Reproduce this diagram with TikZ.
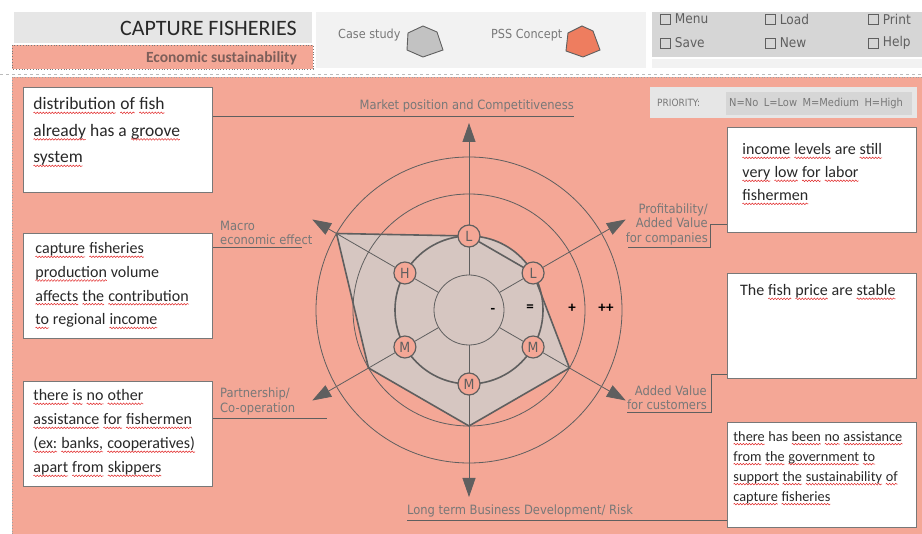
\documentclass[tikz,border=0pt]{standalone}
\usepackage{fontspec}
\setmainfont{Carlito}
\newfontfamily\labelfont{DejaVu Sans Condensed}
\usepackage{xcolor}
\definecolor{Salmon}{RGB}{244,167,150}
\definecolor{Coral}{RGB}{238,125,95}
\definecolor{Slate}{RGB}{95,95,95}
\definecolor{Ash}{RGB}{120,120,120}
\definecolor{Shell}{RGB}{214,198,193}
\definecolor{PanelGray}{RGB}{230,230,230}
\definecolor{LightGray}{RGB}{242,242,242}
\definecolor{MidGray}{RGB}{214,214,214}
\definecolor{Ink}{RGB}{40,40,40}
\definecolor{Squiggle}{RGB}{225,40,40}
\definecolor{Cocoa}{RGB}{125,95,90}
\usetikzlibrary{arrows.meta, decorations.pathmorphing}
\newcommand{\spell}[1]{\tikz[baseline=(sw.base)]{%
  \node[inner sep=0pt, outer sep=0pt, anchor=base west, text=Ink] (sw) at (0,0) {#1};%
  \draw[Squiggle, line width=0.5pt, decorate, decoration={snake, amplitude=0.8pt, segment length=3pt}]
    ([yshift=-3pt]sw.base west) -- ([yshift=-3pt]sw.base east);}}

\begin{document}
\begin{tikzpicture}[x=1pt, y=1pt,
    notebox/.style={draw=Ash, fill=white, line width=0.9pt, minimum width=189pt, minimum height=105pt, anchor=north west, inner sep=0pt},
    notetext/.style={anchor=north west, align=left, text=Ink, inner sep=0pt},
    axislabel/.style={font=\labelfont\fontsize{12.8}{14.5}\selectfont, text=Ash, inner sep=0pt},
    headlabel/.style={font=\labelfont\fontsize{12.5}{13}\selectfont, text=Ash, inner sep=0pt},
    leader/.style={draw=Slate, line width=1pt},
    spoke/.style={draw=Slate, line width=0.8pt, -{Triangle[length=19pt,width=13pt]}},
    ring/.style={draw=Slate, line width=0.8pt},
    prio/.style={circle, draw=Slate, fill=Salmon, line width=1.2pt, minimum size=22pt, inner sep=0pt, font=\labelfont\fontsize{14}{14}\selectfont, text=Slate},
    scorelabel/.style={font=\bfseries\fontsize{15}{15}\selectfont, text=black, inner sep=0pt},
    checkbox/.style={draw=Slate, line width=0.7pt, minimum size=10pt, inner sep=0pt, anchor=west},
    menulabel/.style={font=\labelfont\fontsize{13.5}{14}\selectfont, text=Slate, inner sep=0pt, anchor=west}
  ]
  \useasboundingbox (0,0) rectangle (922,-534);
  \fill[white] (0,0) rectangle (922,-534);

  % Header
  \fill[PanelGray] (14,-12) rectangle (312,-43);
  \node[anchor=east, text=Ink, font=\fontsize{22}{24}\selectfont, inner sep=0pt] (title) at (297,-28) {CAPTURE FISHERIES};
  \filldraw[fill=Salmon, draw=Ash, dotted, line width=0.8pt] (12,-45) rectangle (313,-69);
  \node[anchor=east, text=Cocoa, font=\bfseries\fontsize{15.5}{16}\selectfont, inner sep=0pt] (subtitle) at (297,-58) {Economic sustainability};

  \fill[LightGray] (316,-12) rectangle (646,-68);
  \node[headlabel, anchor=west] (casestudy) at (338,-35) {Case study};
  \filldraw[fill=Ash!45, draw=Slate, line width=0.9pt] (423,-26) -- (437,-32) -- (443,-50) -- (423,-57) -- (407,-50) -- (408,-33) -- cycle;
  \node[headlabel, anchor=west] (pssconcept) at (491,-35) {PSS Concept};
  \filldraw[fill=Coral, draw=Slate, line width=0.9pt] (582,-26) -- (593,-31) -- (600,-50) -- (583,-57) -- (566,-51) -- (568,-33) -- cycle;

  \fill[MidGray] (652,-12) rectangle (922,-57);
  \fill[LightGray] (652,-59) rectangle (922,-68);
  \foreach \x/\y/\txt in {660/19/Menu, 765/19/Load, 868/19/Print, 660/43/Save, 765/43/New, 868/43/Help} {
    \node[checkbox] (chk-\txt) at (\x,-\y) {};
    \node[menulabel] (menu-\txt) at ([xshift=4pt]chk-\txt.east) {\txt};
  }
  \draw[Ash!50, dashed, line width=0.6pt] (0,-74) -- (922,-74);

  % Main panel
  \filldraw[fill=Salmon, draw=Ash!70, dotted, line width=0.8pt] (12,-77) rectangle (930,-545);

  % Priority legend
  \fill[PanelGray] (650,-87) rectangle (917,-118);
  \fill[MidGray] (726,-92) rectangle (912,-115);
  \node[anchor=west, font=\labelfont\fontsize{10}{10}\selectfont, text=Ash, inner sep=0pt] (prio-title) at (657,-103) {PRIORITY:};
  \node[anchor=west, font=\labelfont\fontsize{11}{11}\selectfont, text=Ash, inner sep=0pt] (prio-keys) at (729,-103) {N=No\enspace L=Low\enspace M=Medium\enspace H=High};

  % Note boxes
  \node[notebox] (boxL1) at (23,-87) {};
  \node[notebox] (boxL2) at (23,-233) {};
  \node[notebox] (boxL3) at (23,-381) {};
  \node[notebox] (boxR1) at (727,-127) {};
  \node[notebox] (boxR2) at (727,-273) {};
  \node[notebox] (boxR3) at (727,-422) {};

  \node[notetext, font=\fontsize{17.5}{26.5}\selectfont] (noteL1) at (33,-97.5)
    {\spell{distribution} \spell{of} \spell{fish}\\\spell{already} has a \spell{groove}\\\spell{system}};
  \node[notetext, font=\fontsize{16}{23.7}\selectfont] (noteL2) at (35,-242.5)
    {\spell{capture} \spell{fisheries}\\\spell{production} volume\\\spell{affects} \spell{the} \spell{contribution}\\\spell{to} regional \spell{income}};
  \node[notetext, font=\fontsize{16}{24}\selectfont] (noteL3) at (33,-389.5)
    {\spell{there} \spell{is} \spell{no} \spell{other}\\\spell{assistance} \spell{for} \spell{fishermen}\\\spell{(ex:} \spell{banks,} \spell{cooperatives)}\\\spell{apart} \spell{from} \spell{skippers}};
  \node[notetext, font=\fontsize{16}{23}\selectfont] (noteR1) at (742,-143.5)
    {\spell{income} \spell{levels} are \spell{still}\\\spell{very} \spell{low} \spell{for} \spell{labor}\\\spell{fishermen}};
  \node[notetext, font=\fontsize{16}{23}\selectfont] (noteR2) at (740,-284.5)
    {The \spell{fish} \spell{price} are \spell{stable}};
  \node[notetext, font=\fontsize{14.3}{20}\selectfont] (noteR3) at (733,-431)
    {\spell{there} has \spell{been} \spell{no} \spell{assistance}\\\spell{from} \spell{the} \spell{government} \spell{to}\\\spell{support} \spell{the} \spell{sustainability} \spell{of}\\\spell{capture} \spell{fisheries}};

  % Radar
  \coordinate (hub) at (469,-310);
  \fill[Shell] ([shift={(90:74)}]hub) -- ([shift={(30:74)}]hub) -- ([shift={(-30:116)}]hub)
    -- ([shift={(-90:116)}]hub) -- ([shift={(-150:116)}]hub) -- ([shift={(150:153)}]hub) -- cycle;
  \fill[Shell] (hub) circle[radius=74];
  \draw[ring] (hub) circle[radius=116];
  \draw[ring] (hub) circle[radius=153];
  \draw[ring] (hub) circle[radius=35];
  \draw[draw=Slate, line width=1.6pt, line join=round] ([shift={(90:74)}]hub) -- ([shift={(30:74)}]hub) -- ([shift={(-30:116)}]hub)
    -- ([shift={(-90:116)}]hub) -- ([shift={(-150:116)}]hub) -- ([shift={(150:153)}]hub) -- cycle;
  \draw[draw=Slate, line width=1.6pt] (hub) circle[radius=74];

  \foreach \ang/\len/\name in {90/187/market, 30/181/profit, -30/181/custom, -90/187/longterm, -150/181/partner, 150/181/macro} {
    \coordinate (base-\name) at ([shift={(\ang:35)}]hub);
    \coordinate (tip-\name) at ([shift={(\ang:\len)}]hub);
    \draw[spoke] (base-\name) -- (tip-\name);
  }

  \foreach \ang/\lvl/\name in {90/L/market, 30/L/profit, -30/M/custom, -90/M/longterm, -150/M/partner, 150/H/macro}
    \node[prio] (prio-\name) at ([shift={(\ang:74)}]hub) {\lvl};

  \node[scorelabel] (score-minus) at (493,-311) {-};
  \node[scorelabel] (score-equal) at (530,-308) {=};
  \node[scorelabel] (score-plus) at (572,-308) {+};
  \node[scorelabel] (score-plusplus) at (606,-308) {++};

  % Axis labels and leaders
  \coordinate (end-market) at (574,-117);
  \draw[leader] (boxL1.east |- end-market) -- (end-market);
  \node[axislabel, anchor=south east] (lbl-market) at ([yshift=5pt]end-market) {Market position and Competitiveness};

  \coordinate (end-macro) at (302,-248);
  \draw[leader] (boxL2.east |- end-macro) -- (end-macro);
  \node[axislabel, anchor=south west, align=left] (lbl-macro) at (220,-245) {Macro\\economic effect};

  \coordinate (end-partner) at (327,-419);
  \draw[leader] (boxL3.east |- end-partner) -- (end-partner);
  \node[axislabel, anchor=south west, align=left] (lbl-partner) at (220,-415) {Partnership/\\Co-operation};

  \coordinate (start-profit) at (628,-248);
  \coordinate (bend-profit) at (710,-225);
  \draw[leader] (start-profit) -| (bend-profit) -- (boxR1.west |- bend-profit);
  \node[axislabel, anchor=south east, align=right] (lbl-profit) at (708,-245) {Profitability/\\Added Value\\for companies};

  \coordinate (start-custom) at (627,-413);
  \coordinate (bend-custom) at (711,-375);
  \draw[leader] (start-custom) -| (bend-custom) -- (boxR2.west |- bend-custom);
  \node[axislabel, anchor=south east, align=right] (lbl-custom) at (707,-410) {Added Value\\for customers};

  \coordinate (start-longterm) at (407,-521);
  \draw[leader] (start-longterm) -- (boxR3.west |- start-longterm);
  \node[axislabel, anchor=south west] (lbl-longterm) at ([yshift=4pt]start-longterm) {Long term Business Development/ Risk};

\end{tikzpicture}
\end{document}
